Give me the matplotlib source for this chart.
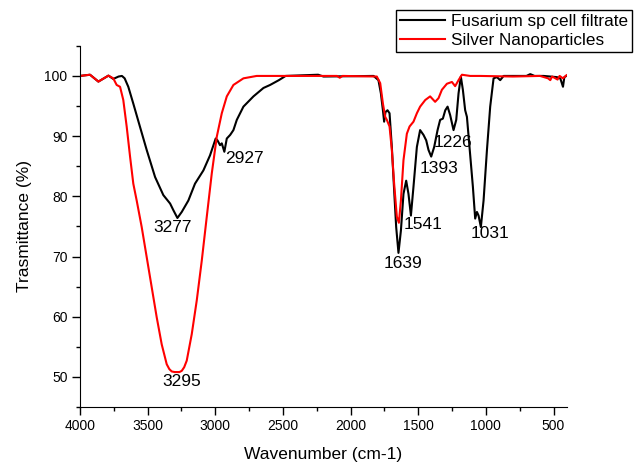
import matplotlib
matplotlib.use("Agg")
import matplotlib.pyplot as plt
from matplotlib.ticker import MultipleLocator

plt.rcParams['font.family'] = ['Liberation Sans', 'DejaVu Sans']

# Fusarium sp cell filtrate (black)
black_wn = [4000, 3926, 3864, 3790, 3754, 3715, 3690, 3670, 3643, 3606, 3556, 3507, 3445,
            3384, 3334, 3310, 3280, 3248, 3199, 3150, 3088, 3039, 2997, 2984, 2965,
            2952, 2933, 2915, 2890, 2866, 2841, 2792, 2718, 2644, 2595, 2530, 2480, 2240,
            2200, 1830, 1794, 1776, 1761, 1752, 1742, 1727, 1712, 1695, 1678, 1663,
            1646, 1628, 1609, 1589, 1572, 1554, 1535, 1510, 1486, 1461, 1441, 1424,
            1404, 1382, 1357, 1338, 1318, 1300, 1283, 1264, 1239, 1219, 1202, 1185,
            1170, 1153, 1140, 1121, 1096, 1079, 1066, 1054, 1037, 1017, 992, 968,
            943, 918, 894, 869, 820, 700, 672, 640, 573, 475, 450, 430, 420, 405]
black_t = [100, 100.2, 99.06, 100.05, 99.5, 99.9, 100, 99.6, 98.2, 95.4, 91.5, 87.7, 83.2,
           80.2, 78.8, 77.7, 76.4, 77.4, 79.3, 82.1, 84.3, 86.8, 89.6, 89.3, 88.5,
           88.8, 87.4, 89.6, 90.2, 91.0, 92.7, 94.9, 96.6, 98.0, 98.5, 99.3, 100, 100.2,
           99.9, 100, 99.3, 97.1, 94.3, 92.4, 94.0, 94.3, 93.8, 88.2, 81.0, 74.9,
           70.6, 74.3, 80.4, 82.6, 80.4, 76.8, 81.6, 88.2, 91.0, 90.2, 89.3, 87.7,
           86.6, 88.2, 91.0, 92.7, 92.9, 94.3, 94.9, 93.5, 91.0, 92.7, 97.1, 99.9,
           97.7, 94.3, 93.2, 88.2, 81.6, 76.3, 77.4, 76.8, 74.9, 79.3, 87.7, 94.9,
           99.6, 99.8, 99.3, 100, 100, 100, 100.3, 100, 100, 99.8, 99.6, 98.2, 99.8, 100]

# Silver Nanoparticles (red)
red_wn = [4000, 3926, 3864, 3790, 3754, 3729, 3704, 3680, 3655, 3630, 3606, 3581,
          3544, 3507, 3470, 3433, 3396, 3359, 3340, 3322, 3300, 3285, 3265, 3248, 3230,
          3211, 3174, 3137, 3100, 3063, 3026, 2989, 2952, 2915, 2866, 2792, 2694, 2100,
          2080, 2060, 1806, 1781, 1761, 1744, 1732, 1712, 1695, 1678, 1658, 1643, 1628,
          1609, 1584, 1564, 1535, 1510, 1486, 1448, 1412, 1375, 1350, 1325, 1288, 1251,
          1227, 1202, 1177, 1116, 1042, 800, 600, 540, 524, 510, 470, 455, 430, 405]
red_t = [100, 100.2, 99.06, 100.05, 99.6, 98.5, 98.2, 96.0, 91.6, 86.6, 82.1, 79.3,
         74.9, 69.9, 64.9, 59.9, 55.4, 52.1, 51.3, 50.9, 50.8, 50.8, 50.8, 51.0, 51.6,
         52.7, 57.1, 62.7, 69.3, 76.6, 83.8, 89.9, 93.8, 96.6, 98.5, 99.6, 100, 100,
         99.7, 100, 99.9, 98.8, 95.4, 93.2, 92.7, 91.6, 87.7, 82.1, 76.6, 75.6, 79.3,
         86.0, 90.4, 91.6, 92.4, 93.8, 94.9, 96.0, 96.6, 95.7, 96.3, 97.7, 98.7, 99.0,
         98.3, 99.3, 100.2, 100, 100, 99.9, 100, 99.6, 99.3, 99.9, 99.4, 100, 99.6, 100.1]

# Peak annotations
peak_labels = ["3277", "3295", "2927", "1639", "1541", "1393", "1226", "1031"]
peak_x = [3312, 3245, 2787, 1611, 1463, 1345, 1241, 968]
peak_y = [74.8, 49.3, 86.3, 68.8, 75.3, 84.7, 89.0, 73.8]

fig = plt.figure(figsize=(6.4, 4.63), dpi=100)
ax = fig.add_axes([0.125, 0.121, 0.761, 0.780])

ax.plot(black_wn, black_t, color='black', lw=1.5, label='Fusarium sp cell filtrate')
ax.plot(red_wn, red_t, color='#ff0000', lw=1.5, label='Silver Nanoparticles')

for s, x, y in zip(peak_labels, peak_x, peak_y):
    ax.text(x, y, s, ha='center', va='center', fontsize=12.5)

ax.set_xlim(4000, 400)
ax.set_ylim(45, 105)
ax.set_xticks([4000, 3500, 3000, 2500, 2000, 1500, 1000, 500])
ax.xaxis.set_minor_locator(MultipleLocator(250))
ax.set_yticks([50, 60, 70, 80, 90, 100])
ax.yaxis.set_minor_locator(MultipleLocator(5))
ax.tick_params(which='major', direction='out', length=5.5, width=1, labelsize=10)
ax.tick_params(which='minor', direction='out', length=3, width=1)
ax.spines['top'].set_visible(False)
ax.spines['right'].set_visible(False)
ax.set_xlabel('Wavenumber (cm-1)', fontsize=12.5, labelpad=10)
ax.set_ylabel('Trasmittance (%)', fontsize=12.5, labelpad=9)

leg = fig.legend(loc='upper right', bbox_to_anchor=(632 / 640, 1 - 10 / 463),
                 frameon=True, fancybox=False, edgecolor='black', framealpha=1,
                 fontsize=12.3, handlelength=2.6, borderaxespad=0, borderpad=0.25,
                 labelspacing=0.22, handletextpad=0.35)
leg.get_frame().set_linewidth(1)

fig.savefig('out.png', dpi=100)
